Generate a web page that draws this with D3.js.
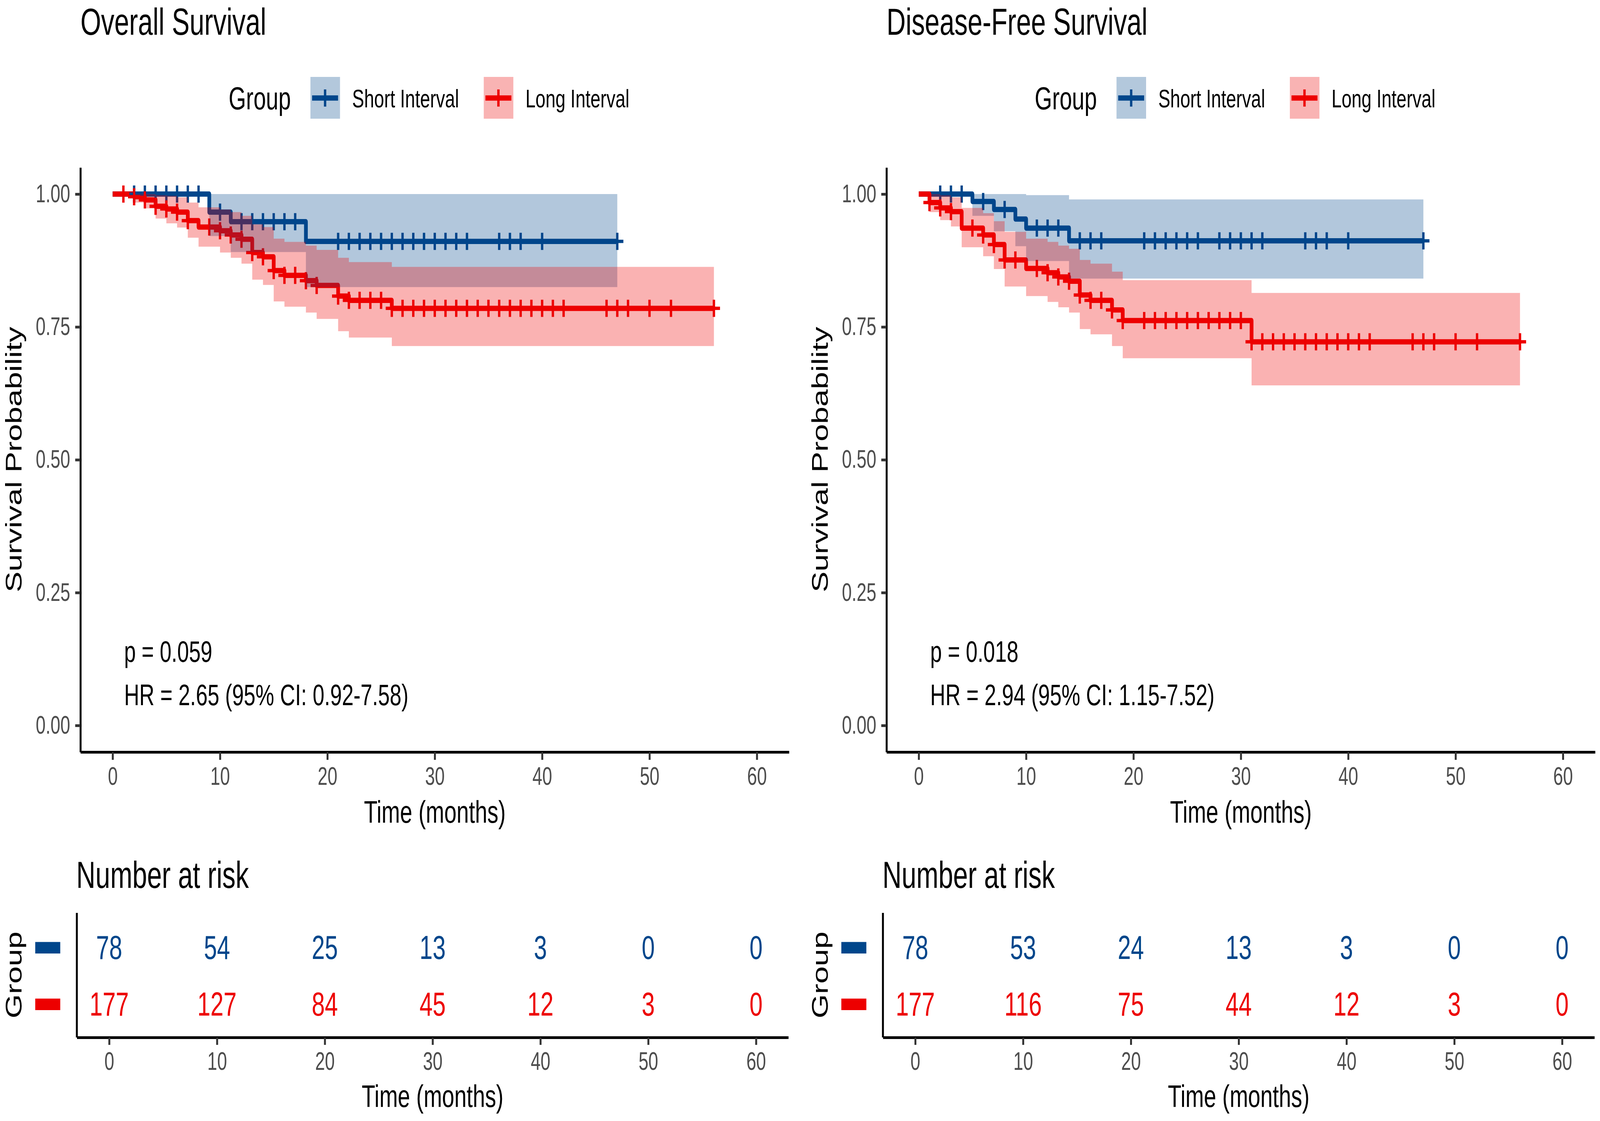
<!DOCTYPE html>
<meta charset="utf-8">
<style>
    html, body { margin: 0; padding: 0; background: white; overflow: hidden; }
    svg { display: block; width: 100vw; height: 100vh; }
    svg text { font-family: "Liberation Sans", Arial, sans-serif; }
</style>
<body>
<script src="https://cdn.jsdelivr.net/npm/d3@7/dist/d3.min.js"></script>
<script>
    var groups = ["Short Interval", "Long Interval"];
    var colors = ["#00468B", "#ED0000"];
    var xTicks = [0, 10, 20, 30, 40, 50, 60];
    var yTicks = [0, 0.25, 0.5, 0.75, 1];
    var riskTimes = [0, 10, 20, 30, 40, 50, 60];

    // overall survival, short interval
    var osShortTime  = [0, 9, 11, 18];
    var osShortSurv  = [1, 0.966, 0.948, 0.911];
    var osShortUpper = [1, 1, 1, 1];
    var osShortLower = [1, 0.921, 0.891, 0.825];
    var osShortEnd = 47;
    var osShortCensor = [2, 3, 4, 5, 6, 7, 8, 10, 12, 13, 14, 15, 16, 17, 21, 22, 23, 24, 25, 26, 27, 28, 29, 30,
                         31, 32, 33, 36, 37, 38, 40, 47];

    // overall survival, long interval
    var osLongTime  = [0, 2, 3, 4, 5, 6, 7, 8, 10, 11, 12, 13, 14, 15, 16, 18, 19, 21, 22, 26];
    var osLongSurv  = [1, 0.995, 0.989, 0.977, 0.972, 0.966, 0.950, 0.938, 0.931, 0.923, 0.915, 0.890, 0.882,
                       0.856, 0.847, 0.837, 0.828, 0.808, 0.800, 0.785];
    var osLongUpper = [1, 1, 1, 0.998, 0.997, 0.994, 0.984, 0.975, 0.971, 0.966, 0.959, 0.943, 0.938,
                       0.916, 0.910, 0.903, 0.895, 0.880, 0.872, 0.863];
    var osLongLower = [1, 0.984, 0.973, 0.954, 0.945, 0.937, 0.918, 0.901, 0.890, 0.880, 0.869, 0.839, 0.829,
                       0.798, 0.788, 0.777, 0.765, 0.742, 0.730, 0.714];
    var osLongEnd = 56;
    var osLongCensor = [1, 2, 3, 4, 5, 6, 7, 9, 10, 11, 12, 13, 14, 15, 16, 17, 18, 19, 21, 22, 23, 24, 25, 26,
                        27, 28, 29, 30, 31, 32, 33, 34, 35, 36, 37, 38, 39, 40, 41, 42, 46, 47, 48, 50, 52, 56];

    // disease-free survival, short interval
    var dfsShortTime  = [0, 5, 7, 9, 10, 14];
    var dfsShortSurv  = [1, 0.986, 0.971, 0.953, 0.936, 0.912];
    var dfsShortUpper = [1, 1, 1, 1, 0.998, 0.990];
    var dfsShortLower = [1, 0.959, 0.930, 0.902, 0.874, 0.841];
    var dfsShortEnd = 47;
    var dfsShortCensor = [2, 3, 4, 6, 8, 11, 12, 13, 15, 16, 17, 21, 22, 23, 24, 25, 26, 28, 29, 30, 31, 32,
                          36, 37, 38, 40, 47];

    // disease-free survival, long interval
    var dfsLongTime  = [0, 1, 2, 3, 4, 6, 7, 8, 10, 12, 13, 14, 15, 16, 18, 19, 31];
    var dfsLongSurv  = [1, 0.984, 0.974, 0.967, 0.936, 0.923, 0.905, 0.876, 0.860, 0.852, 0.844, 0.836,
                        0.810, 0.800, 0.782, 0.762, 0.722];
    var dfsLongUpper = [1, 1, 0.998, 0.994, 0.974, 0.964, 0.949, 0.929, 0.916, 0.910, 0.903, 0.897,
                        0.876, 0.869, 0.854, 0.838, 0.814];
    var dfsLongLower = [1, 0.966, 0.951, 0.939, 0.900, 0.883, 0.859, 0.826, 0.808, 0.797, 0.787, 0.777,
                        0.746, 0.736, 0.714, 0.691, 0.640];
    var dfsLongEnd = 56;
    var dfsLongCensor = [1, 2, 3, 5, 6, 7, 8, 9, 11, 12, 13, 14, 15, 16, 17, 18, 19, 21, 22, 23, 24, 25, 26,
                         27, 28, 29, 30, 31, 32, 33, 34, 35, 36, 37, 38, 39, 40, 41, 42, 46, 47, 48, 50, 52, 56];

    // numbers at risk
    var osRiskShort  = [78, 54, 25, 13, 3, 0, 0];
    var osRiskLong   = [177, 127, 84, 45, 12, 3, 0];
    var dfsRiskShort = [78, 53, 24, 13, 3, 0, 0];
    var dfsRiskLong  = [177, 116, 75, 44, 12, 3, 0];

    var W = 5788, H = 2871;
    var bandColors = ["#B3C8DC", "#F9B3B3"];

    // the window can come out narrower than asked, so stretch the drawing over it
    var svg = d3.select("body").append("svg")
        .attr("viewBox", "0 0 " + W + " " + H)
        .attr("preserveAspectRatio", "none");

    function curve(time, surv, upper, lower, end, censor) {
        return {time: time, surv: surv, upper: upper, lower: lower, end: end, censor: censor};
    }

    function styleAxis(a) {
        a.attr("font-family", null).attr("font-size", null);
        a.select(".domain").attr("stroke", "black").attr("stroke-width", 7);
        a.selectAll(".tick line").attr("stroke", "#333333").attr("stroke-width", 7);
        a.selectAll(".tick text").attr("fill", "#4D4D4D").style("font-size", "64px");
    }

    function drawPanel(dx, title, curves, pText, hrText, risks) {
        var g = svg.append("g").attr("transform", "translate(" + dx + ",0)");
        var x = d3.scaleLinear().domain([-3, 63]).range([291, 2854.5]);
        var xr = d3.scaleLinear().domain([-3, 63]).range([278, 2852]);
        var y = d3.scaleLinear().domain([-0.05, 1.05]).range([1926, 429]);

        g.append("text").attr("x", 291).attr("y", 89).text(title)
            .style("font-size", "96px").attr("fill", "black");

        // legend
        g.append("text").attr("x", 827).attr("y", 280).text("Group").style("font-size", "81px");
        var legX = [1123, 1750];
        groups.forEach(function(name, i) {
            var lx = legX[i];
            g.append("rect").attr("x", lx).attr("y", 197).attr("width", 107).attr("height", 107)
                .attr("fill", bandColors[i]);
            g.append("line").attr("x1", lx + 6).attr("x2", lx + 100).attr("y1", 251).attr("y2", 251)
                .attr("stroke", colors[i]).attr("stroke-width", 13.5);
            g.append("line").attr("x1", lx + 53).attr("x2", lx + 53).attr("y1", 229).attr("y2", 273)
                .attr("stroke", colors[i]).attr("stroke-width", 8.5);
            g.append("text").attr("x", lx + 151).attr("y", 275).text(name).style("font-size", "65px");
        });

        // survival lines
        var line = d3.line().x(function(d) { return x(d[0]); }).y(function(d) { return y(d[1]); })
            .curve(d3.curveStepAfter);
        var area = d3.area().x(function(d) { return x(d.t); })
            .y0(function(d) { return y(d.lo); }).y1(function(d) { return y(d.hi); })
            .curve(d3.curveStepAfter);

        curves.forEach(function(c, i) {
            var pts = c.time.map(function(t, k) { return [t, c.surv[k]]; });
            pts.push([c.end, c.surv[c.surv.length - 1]]);
            g.append("path").attr("d", line(pts)).attr("fill", "none")
                .attr("stroke", colors[i]).attr("stroke-width", 13.5)
                .attr("stroke-linejoin", "round");
        });

        // censor marks
        curves.forEach(function(c, i) {
            c.censor.forEach(function(t) {
                var s = c.surv[d3.bisectRight(c.time, t) - 1];
                g.append("line").attr("x1", x(t)).attr("x2", x(t)).attr("y1", y(s) - 22).attr("y2", y(s) + 22)
                    .attr("stroke", colors[i]).attr("stroke-width", 8.5);
                g.append("line").attr("x1", x(t) - 22).attr("x2", x(t) + 22).attr("y1", y(s)).attr("y2", y(s))
                    .attr("stroke", colors[i]).attr("stroke-width", 8.5);
            });
        });

        // confidence bands, drawn on top like the original
        curves.forEach(function(c, i) {
            var bd = c.time.map(function(t, k) { return {t: t, lo: c.lower[k], hi: c.upper[k]}; });
            var last = bd[bd.length - 1];
            bd.push({t: c.end, lo: last.lo, hi: last.hi});
            g.append("path").attr("d", area(bd)).attr("fill", colors[i]).attr("fill-opacity", 0.3);
        });

        // axes
        var xa = g.append("g").attr("transform", "translate(0,1926)")
            .call(d3.axisBottom(x).tickValues(xTicks).tickSize(20).tickSizeOuter(0).tickPadding(19));
        styleAxis(xa);
        var ya = g.append("g").attr("transform", "translate(291,0)")
            .call(d3.axisLeft(y).tickValues(yTicks).tickSize(19).tickSizeOuter(0).tickPadding(18)
                .tickFormat(d3.format(".2f")));
        styleAxis(ya);

        g.append("text").attr("x", 1573).attr("y", 2107).attr("text-anchor", "middle")
            .text("Time (months)").style("font-size", "80px");
        g.append("text").attr("transform", "translate(78,1177) rotate(-90)").attr("text-anchor", "middle")
            .text("Survival Probability").style("font-size", "80px");

        g.append("text").attr("x", 449).attr("y", 1695).text(pText).style("font-size", "76px");
        g.append("text").attr("x", 449).attr("y", 1806).text(hrText).style("font-size", "76px");

        // risk table
        g.append("text").attr("x", 276).attr("y", 2274).text("Number at risk").style("font-size", "96px");
        var ry = d3.scalePoint().domain(groups).range([2426, 2571]);
        risks.forEach(function(vals, i) {
            g.selectAll(null).data(vals).enter().append("text")
                .attr("x", function(d, k) { return xr(riskTimes[k]); })
                .attr("y", ry(groups[i]) + 30.5)
                .attr("text-anchor", "middle")
                .attr("fill", colors[i])
                .style("font-size", "85px")
                .text(function(d) { return d; });
            g.append("rect").attr("x", 127.5).attr("y", ry(groups[i]) - 13.5).attr("width", 90.5).attr("height", 29.5)
                .attr("fill", colors[i]);
        });
        g.append("line").attr("x1", 278).attr("x2", 278).attr("y1", 2338).attr("y2", 2657)
            .attr("stroke", "black").attr("stroke-width", 7);
        var ra = g.append("g").attr("transform", "translate(0,2657)")
            .call(d3.axisBottom(xr).tickValues(xTicks).tickSize(19).tickSizeOuter(0).tickPadding(19));
        styleAxis(ra);
        g.append("text").attr("x", 1565).attr("y", 2835).attr("text-anchor", "middle")
            .text("Time (months)").style("font-size", "80px");
        g.append("text").attr("transform", "translate(78,2497) rotate(-90)").attr("text-anchor", "middle")
            .text("Group").style("font-size", "80px");
    }

    drawPanel(0, "Overall Survival",
        [curve(osShortTime, osShortSurv, osShortUpper, osShortLower, osShortEnd, osShortCensor),
         curve(osLongTime, osLongSurv, osLongUpper, osLongLower, osLongEnd, osLongCensor)],
        "p = 0.059", "HR = 2.65 (95% CI: 0.92-7.58)",
        [osRiskShort, osRiskLong]);

    drawPanel(2916, "Disease-Free Survival",
        [curve(dfsShortTime, dfsShortSurv, dfsShortUpper, dfsShortLower, dfsShortEnd, dfsShortCensor),
         curve(dfsLongTime, dfsLongSurv, dfsLongUpper, dfsLongLower, dfsLongEnd, dfsLongCensor)],
        "p = 0.018", "HR = 2.94 (95% CI: 1.15-7.52)",
        [dfsRiskShort, dfsRiskLong]);
</script>
</body>
